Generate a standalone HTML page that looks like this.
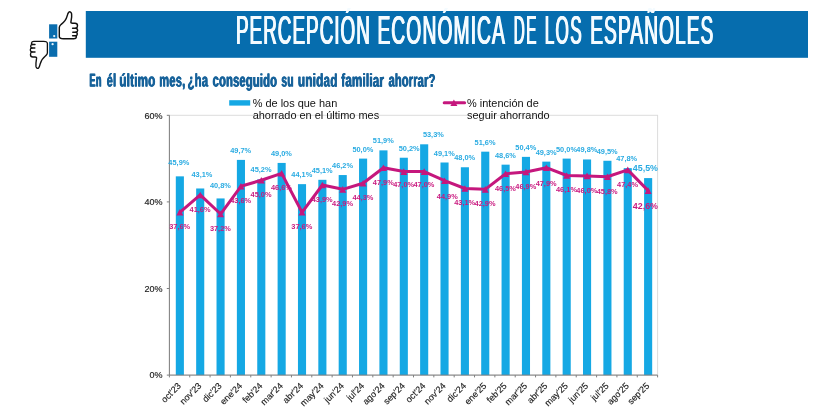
<!DOCTYPE html>
<html><head><meta charset="utf-8"><title>Percepción económica de los españoles</title>
<style>
html,body{margin:0;padding:0;background:#fff;}
body{width:825px;height:416px;overflow:hidden;font-family:"Liberation Sans",sans-serif;}
svg{display:block;will-change:transform;}
text{font-family:"Liberation Sans",sans-serif;}
.ax{font-size:9px;fill:#1c1c1c;stroke:#1c1c1c;stroke-width:0.15px;}
.bl{font-size:7.4px;font-weight:bold;fill:#29abe2;text-anchor:middle;}
.ll{font-size:7.4px;font-weight:bold;fill:#c9197f;text-anchor:middle;}
.lg{font-size:10.95px;fill:#111;}
</style></head><body>
<svg width="825" height="416" viewBox="0 0 825 416">
<rect width="825" height="416" fill="#fff"/>
<rect x="85.8" y="11" width="722.2" height="46.8" fill="#066dae"/>
<text transform="translate(235.42 44.35) scale(0.4606 1) rotate(0.02)" font-size="41" font-weight="400" fill="#f4fbff" letter-spacing="2.220">PERCEPCIÓN</text>
<text transform="translate(235.92 44.35) scale(0.4606 1) rotate(0.02)" font-size="41" font-weight="400" fill="#f4fbff" letter-spacing="2.220">PERCEPCIÓN</text>
<text transform="translate(236.42 44.35) scale(0.4606 1) rotate(0.02)" font-size="41" font-weight="400" fill="#f4fbff" letter-spacing="2.220">PERCEPCIÓN</text>
<text transform="translate(376.89 44.35) scale(0.4696 1) rotate(0.02)" font-size="41" font-weight="400" fill="#f4fbff" letter-spacing="2.357">ECONÓMICA</text>
<text transform="translate(377.39 44.35) scale(0.4696 1) rotate(0.02)" font-size="41" font-weight="400" fill="#f4fbff" letter-spacing="2.357">ECONÓMICA</text>
<text transform="translate(377.89 44.35) scale(0.4696 1) rotate(0.02)" font-size="41" font-weight="400" fill="#f4fbff" letter-spacing="2.357">ECONÓMICA</text>
<text transform="translate(513.19 44.35) scale(0.3712 1) rotate(0.02)" font-size="41" font-weight="400" fill="#f4fbff" letter-spacing="3.960">DE</text>
<text transform="translate(513.69 44.35) scale(0.3712 1) rotate(0.02)" font-size="41" font-weight="400" fill="#f4fbff" letter-spacing="3.960">DE</text>
<text transform="translate(514.19 44.35) scale(0.3712 1) rotate(0.02)" font-size="41" font-weight="400" fill="#f4fbff" letter-spacing="3.960">DE</text>
<text transform="translate(544.35 44.35) scale(0.4178 1) rotate(0.02)" font-size="41" font-weight="400" fill="#f4fbff" letter-spacing="2.924">LOS</text>
<text transform="translate(544.85 44.35) scale(0.4178 1) rotate(0.02)" font-size="41" font-weight="400" fill="#f4fbff" letter-spacing="2.924">LOS</text>
<text transform="translate(545.35 44.35) scale(0.4178 1) rotate(0.02)" font-size="41" font-weight="400" fill="#f4fbff" letter-spacing="2.924">LOS</text>
<text transform="translate(589.8 44.35) scale(0.4666 1) rotate(0.02)" font-size="41" font-weight="400" fill="#f4fbff" letter-spacing="2.267">ESPAÑOLES</text>
<text transform="translate(590.3 44.35) scale(0.4666 1) rotate(0.02)" font-size="41" font-weight="400" fill="#f4fbff" letter-spacing="2.267">ESPAÑOLES</text>
<text transform="translate(590.8 44.35) scale(0.4666 1) rotate(0.02)" font-size="41" font-weight="400" fill="#f4fbff" letter-spacing="2.267">ESPAÑOLES</text>
<text transform="translate(89.1 86.6) scale(0.4966 1) rotate(0.03)" font-size="18.4" font-weight="700" fill="#17629a" letter-spacing="0.689">En</text>
<text transform="translate(89.45 86.6) scale(0.4966 1) rotate(0.03)" font-size="18.4" font-weight="700" fill="#17629a" letter-spacing="0.689">En</text>
<text transform="translate(89.8 86.6) scale(0.4966 1) rotate(0.03)" font-size="18.4" font-weight="700" fill="#17629a" letter-spacing="0.689">En</text>
<text transform="translate(106.4 86.6) scale(0.5931 1) rotate(0.03)" font-size="18.4" font-weight="700" fill="#17629a" letter-spacing="0.440">él</text>
<text transform="translate(106.75 86.6) scale(0.5931 1) rotate(0.03)" font-size="18.4" font-weight="700" fill="#17629a" letter-spacing="0.440">él</text>
<text transform="translate(107.1 86.6) scale(0.5931 1) rotate(0.03)" font-size="18.4" font-weight="700" fill="#17629a" letter-spacing="0.440">él</text>
<text transform="translate(119.07 86.6) scale(0.6313 1) rotate(0.03)" font-size="18.4" font-weight="700" fill="#17629a" letter-spacing="0.334">último</text>
<text transform="translate(119.42 86.6) scale(0.6313 1) rotate(0.03)" font-size="18.4" font-weight="700" fill="#17629a" letter-spacing="0.334">último</text>
<text transform="translate(119.77 86.6) scale(0.6313 1) rotate(0.03)" font-size="18.4" font-weight="700" fill="#17629a" letter-spacing="0.334">último</text>
<text transform="translate(158.9 86.6) scale(0.6019 1) rotate(0.03)" font-size="18.4" font-weight="700" fill="#17629a" letter-spacing="0.410">mes,</text>
<text transform="translate(159.25 86.6) scale(0.6019 1) rotate(0.03)" font-size="18.4" font-weight="700" fill="#17629a" letter-spacing="0.410">mes,</text>
<text transform="translate(159.6 86.6) scale(0.6019 1) rotate(0.03)" font-size="18.4" font-weight="700" fill="#17629a" letter-spacing="0.410">mes,</text>
<text transform="translate(187.3 86.6) scale(0.6035 1) rotate(0.03)" font-size="18.4" font-weight="700" fill="#17629a" letter-spacing="0.502">¿ha</text>
<text transform="translate(187.65 86.6) scale(0.6035 1) rotate(0.03)" font-size="18.4" font-weight="700" fill="#17629a" letter-spacing="0.502">¿ha</text>
<text transform="translate(188 86.6) scale(0.6035 1) rotate(0.03)" font-size="18.4" font-weight="700" fill="#17629a" letter-spacing="0.502">¿ha</text>
<text transform="translate(212.3 86.6) scale(0.6048 1) rotate(0.03)" font-size="18.4" font-weight="700" fill="#17629a" letter-spacing="0.354">conseguido</text>
<text transform="translate(212.65 86.6) scale(0.6048 1) rotate(0.03)" font-size="18.4" font-weight="700" fill="#17629a" letter-spacing="0.354">conseguido</text>
<text transform="translate(213 86.6) scale(0.6048 1) rotate(0.03)" font-size="18.4" font-weight="700" fill="#17629a" letter-spacing="0.354">conseguido</text>
<text transform="translate(281.1 86.6) scale(0.5438 1) rotate(0.03)" font-size="18.4" font-weight="700" fill="#17629a" letter-spacing="0.657">su</text>
<text transform="translate(281.45 86.6) scale(0.5438 1) rotate(0.03)" font-size="18.4" font-weight="700" fill="#17629a" letter-spacing="0.657">su</text>
<text transform="translate(281.8 86.6) scale(0.5438 1) rotate(0.03)" font-size="18.4" font-weight="700" fill="#17629a" letter-spacing="0.657">su</text>
<text transform="translate(297.56 86.6) scale(0.6358 1) rotate(0.03)" font-size="18.4" font-weight="700" fill="#17629a" letter-spacing="0.365">unidad</text>
<text transform="translate(297.91 86.6) scale(0.6358 1) rotate(0.03)" font-size="18.4" font-weight="700" fill="#17629a" letter-spacing="0.365">unidad</text>
<text transform="translate(298.26 86.6) scale(0.6358 1) rotate(0.03)" font-size="18.4" font-weight="700" fill="#17629a" letter-spacing="0.365">unidad</text>
<text transform="translate(340.9 86.6) scale(0.6332 1) rotate(0.03)" font-size="18.4" font-weight="700" fill="#17629a" letter-spacing="0.288">familiar</text>
<text transform="translate(341.25 86.6) scale(0.6332 1) rotate(0.03)" font-size="18.4" font-weight="700" fill="#17629a" letter-spacing="0.288">familiar</text>
<text transform="translate(341.6 86.6) scale(0.6332 1) rotate(0.03)" font-size="18.4" font-weight="700" fill="#17629a" letter-spacing="0.288">familiar</text>
<text transform="translate(388.2 86.6) scale(0.5995 1) rotate(0.03)" font-size="18.4" font-weight="700" fill="#17629a" letter-spacing="0.333">ahorrar?</text>
<text transform="translate(388.55 86.6) scale(0.5995 1) rotate(0.03)" font-size="18.4" font-weight="700" fill="#17629a" letter-spacing="0.333">ahorrar?</text>
<text transform="translate(388.9 86.6) scale(0.5995 1) rotate(0.03)" font-size="18.4" font-weight="700" fill="#17629a" letter-spacing="0.333">ahorrar?</text>
<g>
<rect x="49.1" y="24.3" width="8.2" height="14.2" fill="#0a6dae"/>
<circle cx="54.2" cy="36.1" r="1.15" fill="#e8f4fb"/>
<rect x="49.1" y="41.7" width="8.2" height="15.1" fill="#0a6dae"/>
<circle cx="52.6" cy="44.2" r="1.15" fill="#e8f4fb"/>
<g fill="#fff" stroke="#111" stroke-width="1.45" stroke-linejoin="round" stroke-linecap="round">
<path d="M59.3 36.6V27.4C59.3 25.8 60.2 25.2 61.2 24.4C63.8 22.4 66.2 19.6 67 16.4C67.5 14.4 67.9 12.8 68.9 12.1C70 11.4 71.3 12.2 71.6 13.8C72 16.4 71.3 19.6 70.9 22C70.8 22.8 71.4 23.2 72.4 23.2H75C76.6 23.2 77.5 24.4 77.5 25.7C77.5 27.1 76.8 28.1 75.8 28.3C76.9 28.5 77.7 29.3 77.7 30.3C77.7 31.4 76.9 32.1 75.9 32.2C76.8 32.4 77.3 33.1 77.3 34C77.3 35 76.6 35.6 75.6 35.7C76.2 36 76.5 36.6 76.4 37.2C76.2 38.3 75.2 38.8 73.8 38.8H63.4C61.4 38.8 59.3 38.4 59.3 36.6Z"/>
<path d="M75.8 28.3H72.6M75.9 32.2H72.8M75.6 35.7H72.6" fill="none"/>
</g>
<g transform="translate(47.4 0) scale(0.93 1) translate(-47.4 0) rotate(180 53.35 40.1)" fill="#fff" stroke="#111" stroke-width="1.45" stroke-linejoin="round" stroke-linecap="round">
<path d="M59.3 36.6V27.4C59.3 25.8 60.2 25.2 61.2 24.4C63.8 22.4 66.2 19.6 67 16.4C67.5 14.4 67.9 12.8 68.9 12.1C70 11.4 71.3 12.2 71.6 13.8C72 16.4 71.3 19.6 70.9 22C70.8 22.8 71.4 23.2 72.4 23.2H75C76.6 23.2 77.5 24.4 77.5 25.7C77.5 27.1 76.8 28.1 75.8 28.3C76.9 28.5 77.7 29.3 77.7 30.3C77.7 31.4 76.9 32.1 75.9 32.2C76.8 32.4 77.3 33.1 77.3 34C77.3 35 76.6 35.6 75.6 35.7C76.2 36 76.5 36.6 76.4 37.2C76.2 38.3 75.2 38.8 73.8 38.8H63.4C61.4 38.8 59.3 38.4 59.3 36.6Z"/>
<path d="M75.8 28.3H72.6M75.9 32.2H72.8M75.6 35.7H72.6" fill="none"/>
</g>
</g>

<rect x="169.4" y="115.3" width="488.2" height="259.8" fill="none" stroke="#dcdcdc" stroke-width="1"/>
<rect x="175.8" y="176.35" width="8.1" height="198.75" fill="#15a8e4"/>
<rect x="196.16" y="188.48" width="8.1" height="186.62" fill="#15a8e4"/>
<rect x="216.52" y="198.44" width="8.1" height="176.66" fill="#15a8e4"/>
<rect x="236.88" y="159.9" width="8.1" height="215.2" fill="#15a8e4"/>
<rect x="257.24" y="179.38" width="8.1" height="195.72" fill="#15a8e4"/>
<rect x="277.6" y="162.93" width="8.1" height="212.17" fill="#15a8e4"/>
<rect x="297.96" y="184.15" width="8.1" height="190.95" fill="#15a8e4"/>
<rect x="318.32" y="179.82" width="8.1" height="195.28" fill="#15a8e4"/>
<rect x="338.68" y="175.05" width="8.1" height="200.05" fill="#15a8e4"/>
<rect x="359.04" y="158.6" width="8.1" height="216.5" fill="#15a8e4"/>
<rect x="379.4" y="150.37" width="8.1" height="224.73" fill="#15a8e4"/>
<rect x="399.76" y="157.73" width="8.1" height="217.37" fill="#15a8e4"/>
<rect x="420.12" y="144.31" width="8.1" height="230.79" fill="#15a8e4"/>
<rect x="440.48" y="162.5" width="8.1" height="212.6" fill="#15a8e4"/>
<rect x="460.84" y="167.26" width="8.1" height="207.84" fill="#15a8e4"/>
<rect x="481.2" y="151.67" width="8.1" height="223.43" fill="#15a8e4"/>
<rect x="501.56" y="164.66" width="8.1" height="210.44" fill="#15a8e4"/>
<rect x="521.92" y="156.87" width="8.1" height="218.23" fill="#15a8e4"/>
<rect x="542.28" y="161.63" width="8.1" height="213.47" fill="#15a8e4"/>
<rect x="562.64" y="158.6" width="8.1" height="216.5" fill="#15a8e4"/>
<rect x="583" y="159.47" width="8.1" height="215.63" fill="#15a8e4"/>
<rect x="603.36" y="160.77" width="8.1" height="214.34" fill="#15a8e4"/>
<rect x="623.72" y="168.13" width="8.1" height="206.97" fill="#15a8e4"/>
<rect x="644.08" y="178.09" width="8.1" height="197.02" fill="#15a8e4"/>
<path d="M169.4 115.3V375.1H657.6" fill="none" stroke="#7f7f7f" stroke-width="1"/>
<path d="M166.8 375.1H169.4M166.8 288.5H169.4M166.8 201.9H169.4M166.8 115.3H169.4M169.4 375.1V377.4M189.74 375.1V377.4M210.08 375.1V377.4M230.43 375.1V377.4M250.77 375.1V377.4M271.11 375.1V377.4M291.45 375.1V377.4M311.79 375.1V377.4M332.13 375.1V377.4M352.48 375.1V377.4M372.82 375.1V377.4M393.16 375.1V377.4M413.5 375.1V377.4M433.84 375.1V377.4M454.18 375.1V377.4M474.52 375.1V377.4M494.87 375.1V377.4M515.21 375.1V377.4M535.55 375.1V377.4M555.89 375.1V377.4M576.23 375.1V377.4M596.58 375.1V377.4M616.92 375.1V377.4M637.26 375.1V377.4M657.6 375.1V377.4" fill="none" stroke="#7f7f7f" stroke-width="1"/>
<text class="ax" x="162.6" y="378.3" text-anchor="end">0%</text>
<text class="ax" x="162.6" y="291.7" text-anchor="end">20%</text>
<text class="ax" x="162.6" y="205.1" text-anchor="end">40%</text>
<text class="ax" x="162.6" y="118.5" text-anchor="end">60%</text>
<text class="ax" transform="translate(181.65 386.4) rotate(-45)" text-anchor="end">oct'23</text>
<text class="ax" transform="translate(202.01 386.4) rotate(-45)" text-anchor="end">nov'23</text>
<text class="ax" transform="translate(222.37 386.4) rotate(-45)" text-anchor="end">dic'23</text>
<text class="ax" transform="translate(242.73 386.4) rotate(-45)" text-anchor="end">ene'24</text>
<text class="ax" transform="translate(263.09 386.4) rotate(-45)" text-anchor="end">feb'24</text>
<text class="ax" transform="translate(283.45 386.4) rotate(-45)" text-anchor="end">mar'24</text>
<text class="ax" transform="translate(303.81 386.4) rotate(-45)" text-anchor="end">abr'24</text>
<text class="ax" transform="translate(324.17 386.4) rotate(-45)" text-anchor="end">may'24</text>
<text class="ax" transform="translate(344.53 386.4) rotate(-45)" text-anchor="end">jun'24</text>
<text class="ax" transform="translate(364.89 386.4) rotate(-45)" text-anchor="end">jul'24</text>
<text class="ax" transform="translate(385.25 386.4) rotate(-45)" text-anchor="end">ago'24</text>
<text class="ax" transform="translate(405.61 386.4) rotate(-45)" text-anchor="end">sep'24</text>
<text class="ax" transform="translate(425.97 386.4) rotate(-45)" text-anchor="end">oct'24</text>
<text class="ax" transform="translate(446.33 386.4) rotate(-45)" text-anchor="end">nov'24</text>
<text class="ax" transform="translate(466.69 386.4) rotate(-45)" text-anchor="end">dic'24</text>
<text class="ax" transform="translate(487.05 386.4) rotate(-45)" text-anchor="end">ene'25</text>
<text class="ax" transform="translate(507.41 386.4) rotate(-45)" text-anchor="end">feb'25</text>
<text class="ax" transform="translate(527.77 386.4) rotate(-45)" text-anchor="end">mar'25</text>
<text class="ax" transform="translate(548.13 386.4) rotate(-45)" text-anchor="end">abr'25</text>
<text class="ax" transform="translate(568.49 386.4) rotate(-45)" text-anchor="end">may'25</text>
<text class="ax" transform="translate(588.85 386.4) rotate(-45)" text-anchor="end">jun'25</text>
<text class="ax" transform="translate(609.21 386.4) rotate(-45)" text-anchor="end">jul'25</text>
<text class="ax" transform="translate(629.57 386.4) rotate(-45)" text-anchor="end">ago'25</text>
<text class="ax" transform="translate(649.93 386.4) rotate(-45)" text-anchor="end">sep'25</text>
<polyline points="179.85,212.29 200.21,194.97 220.57,214.02 240.93,186.31 261.29,180.25 281.65,173.32 302.01,212.29 322.37,185.01 342.73,189.34 363.09,183.28 383.45,167.69 403.81,171.59 424.17,171.59 444.53,180.68 464.89,188.48 485.25,189.34 505.61,173.76 525.97,172.02 546.33,167.69 566.69,175.49 587.05,175.92 607.41,176.79 627.77,169.86 648.13,190.64" fill="none" stroke="#c5177d" stroke-width="3" stroke-linejoin="round" stroke-linecap="round"/>
<path d="M179.85 208.99L183.35 215.59H176.35Z" fill="#c5177d"/>
<path d="M200.21 191.67L203.71 198.27H196.71Z" fill="#c5177d"/>
<path d="M220.57 210.72L224.07 217.32H217.07Z" fill="#c5177d"/>
<path d="M240.93 183.01L244.43 189.61H237.43Z" fill="#c5177d"/>
<path d="M261.29 176.95L264.79 183.55H257.79Z" fill="#c5177d"/>
<path d="M281.65 170.02L285.15 176.62H278.15Z" fill="#c5177d"/>
<path d="M302.01 208.99L305.51 215.59H298.51Z" fill="#c5177d"/>
<path d="M322.37 181.71L325.87 188.31H318.87Z" fill="#c5177d"/>
<path d="M342.73 186.04L346.23 192.64H339.23Z" fill="#c5177d"/>
<path d="M363.09 179.98L366.59 186.58H359.59Z" fill="#c5177d"/>
<path d="M383.45 164.39L386.95 170.99H379.95Z" fill="#c5177d"/>
<path d="M403.81 168.29L407.31 174.89H400.31Z" fill="#c5177d"/>
<path d="M424.17 168.29L427.67 174.89H420.67Z" fill="#c5177d"/>
<path d="M444.53 177.38L448.03 183.98H441.03Z" fill="#c5177d"/>
<path d="M464.89 185.18L468.39 191.78H461.39Z" fill="#c5177d"/>
<path d="M485.25 186.04L488.75 192.64H481.75Z" fill="#c5177d"/>
<path d="M505.61 170.46L509.11 177.06H502.11Z" fill="#c5177d"/>
<path d="M525.97 168.72L529.47 175.32H522.47Z" fill="#c5177d"/>
<path d="M546.33 164.39L549.83 170.99H542.83Z" fill="#c5177d"/>
<path d="M566.69 172.19L570.19 178.79H563.19Z" fill="#c5177d"/>
<path d="M587.05 172.62L590.55 179.22H583.55Z" fill="#c5177d"/>
<path d="M607.41 173.49L610.91 180.09H603.91Z" fill="#c5177d"/>
<path d="M627.77 166.56L631.27 173.16H624.27Z" fill="#c5177d"/>
<path d="M648.13 187.34L651.63 193.94H644.63Z" fill="#c5177d"/>
<text class="bl" x="178.85" y="165.15">45,9%</text>
<text class="bl" x="201.91" y="177.08">43,1%</text>
<text class="bl" x="220.37" y="187.54">40,8%</text>
<text class="bl" x="240.73" y="152.5">49,7%</text>
<text class="bl" x="261.09" y="172.38">45,2%</text>
<text class="bl" x="281.45" y="155.93">49,0%</text>
<text class="bl" x="301.81" y="177.15">44,1%</text>
<text class="bl" x="322.17" y="172.82">45,1%</text>
<text class="bl" x="342.53" y="168.05">46,2%</text>
<text class="bl" x="362.89" y="151.6">50,0%</text>
<text class="bl" x="383.25" y="143.37">51,9%</text>
<text class="bl" x="409.21" y="150.73">50,2%</text>
<text class="bl" x="433.37" y="137.31">53,3%</text>
<text class="bl" x="444.33" y="155.5">49,1%</text>
<text class="bl" x="464.69" y="160.26">48,0%</text>
<text class="bl" x="485.05" y="144.67">51,6%</text>
<text class="bl" x="505.41" y="157.66">48,6%</text>
<text class="bl" x="525.77" y="149.87">50,4%</text>
<text class="bl" x="546.13" y="154.63">49,3%</text>
<text class="bl" x="566.49" y="151.6">50,0%</text>
<text class="bl" x="586.85" y="152.47">49,8%</text>
<text class="bl" x="607.21" y="153.77">49,5%</text>
<text class="bl" x="626.67" y="161.13">47,8%</text>
<text x="645.4" y="170.9" font-size="8.9" font-weight="bold" fill="#29abe2" text-anchor="middle">45,5%</text>
<text class="ll" x="179.65" y="229.29">37,6%</text>
<text class="ll" x="200.01" y="211.97">41,6%</text>
<text class="ll" x="220.37" y="231.02">37,2%</text>
<text class="ll" x="240.73" y="203.31">43,6%</text>
<text class="ll" x="261.09" y="197.25">45,0%</text>
<text class="ll" x="281.45" y="190.32">46,6%</text>
<text class="ll" x="301.81" y="229.29">37,6%</text>
<text class="ll" x="322.17" y="202.01">43,9%</text>
<text class="ll" x="342.53" y="206.34">42,9%</text>
<text class="ll" x="362.89" y="200.28">44,3%</text>
<text class="ll" x="383.25" y="184.69">47,9%</text>
<text class="ll" x="403.61" y="187.49">47,0%</text>
<text class="ll" x="423.97" y="187.49">47,0%</text>
<text class="ll" x="447.33" y="199.38">44,9%</text>
<text class="ll" x="464.69" y="205.48">43,1%</text>
<text class="ll" x="485.05" y="206.34">42,9%</text>
<text class="ll" x="505.41" y="190.76">46,5%</text>
<text class="ll" x="525.77" y="189.02">46,9%</text>
<text class="ll" x="546.13" y="186.19">47,9%</text>
<text class="ll" x="566.49" y="192.49">46,1%</text>
<text class="ll" x="586.85" y="192.92">46,0%</text>
<text class="ll" x="607.21" y="193.79">45,8%</text>
<text class="ll" x="627.57" y="186.86">47,4%</text>
<text x="645.4" y="208.9" font-size="8.9" font-weight="bold" fill="#c9197f" text-anchor="middle">42,6%</text>
<rect x="229.2" y="100.2" width="21" height="5.4" fill="#15a8e4"/>
<text class="lg" x="252.7" y="106.9">% de los que han</text>
<text class="lg" x="252.7" y="119.2">ahorrado en el último mes</text>
<path d="M444.2 102.7H464.6" stroke="#c5177d" stroke-width="3" stroke-linecap="round"/>
<path d="M453.9 99.4L457.4 106H450.4Z" fill="#c5177d"/>
<text class="lg" x="467" y="106.9">% intención de</text>
<text class="lg" x="467" y="119.2">seguir ahorrando</text>
</svg>
</body></html>
